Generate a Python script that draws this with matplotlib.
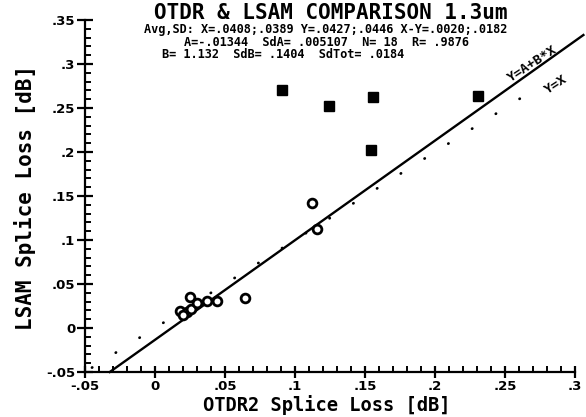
import numpy as np
import matplotlib
matplotlib.use("Agg")
import matplotlib.pyplot as plt
from matplotlib.ticker import MultipleLocator, FixedLocator

# ---- data ----
circ_x = [0.018, 0.023, 0.020, 0.025, 0.026, 0.030, 0.037, 0.044, 0.064, 0.112, 0.116]
circ_y = [0.019, 0.018, 0.015, 0.035, 0.022, 0.028, 0.031, 0.031, 0.034, 0.142, 0.113]
sq_x = [0.091, 0.124, 0.156, 0.154, 0.231]
sq_y = [0.271, 0.252, 0.262, 0.202, 0.264]

fit_A = -0.01344
fit_B = 1.132

x_ticks = [-0.05, 0.0, 0.05, 0.1, 0.15, 0.2, 0.25, 0.3]
x_labels = ["-.05", "0", ".05", ".1", ".15", ".2", ".25", ".3"]
y_ticks = [-0.05, 0.0, 0.05, 0.1, 0.15, 0.2, 0.25, 0.3, 0.35]
y_labels = ["-.05", "0", ".05", ".1", ".15", ".2", ".25", ".3", ".35"]

title = "OTDR & LSAM COMPARISON 1.3um"
stats1 = "Avg,SD: X=.0408;.0389 Y=.0427;.0446 X-Y=.0020;.0182"
stats2 = "A=-.01344  SdA= .005107  N= 18  R= .9876"
stats3 = "B= 1.132  SdB= .1404  SdTot= .0184"
xlabel = "OTDR2 Splice Loss [dB]"
ylabel = "LSAM Splice Loss [dB]"

W, H = 586, 417
fig = plt.figure(figsize=(W / 100, H / 100), dpi=100)
# axes: x from px 85 to 575, y from px 20 (top) to 372 (bottom)
ax = fig.add_axes([85 / W, 1 - 372 / H, 490 / W, 352 / H])

ax.set_xlim(-0.05, 0.3)
ax.set_ylim(-0.05, 0.35)

# regression line Y = A + B*X, starting where it meets the bottom axis
x0 = (-0.05 - fit_A) / fit_B
xr = np.array([x0, 0.306])
ax.plot(xr, fit_A + fit_B * xr, color="black", lw=1.7, clip_on=False, zorder=2)

# Y = X dotted line
xi = np.array([-0.045, 0.272])
ax.plot(xi, xi, color="black", lw=2.0, linestyle=(0, (0.1, 10)),
        dash_capstyle="round", zorder=2)

ax.plot(circ_x, circ_y, linestyle="none", marker="o", markersize=6.3,
        markerfacecolor="white", markeredgecolor="black", markeredgewidth=2.0, zorder=3)
ax.plot(sq_x, sq_y, linestyle="none", marker="s", markersize=6.5,
        markerfacecolor="black", markeredgecolor="black", zorder=3)

for s in ["top", "right"]:
    ax.spines[s].set_visible(False)
for s in ["left", "bottom"]:
    ax.spines[s].set_linewidth(1.6)

ax.xaxis.set_major_locator(FixedLocator(x_ticks))
ax.yaxis.set_major_locator(FixedLocator(y_ticks))
ax.xaxis.set_minor_locator(MultipleLocator(0.01))
ax.yaxis.set_minor_locator(MultipleLocator(0.01))
ax.set_xticklabels(x_labels)
ax.set_yticklabels(y_labels)

tfont = dict(family="DejaVu Sans", weight="bold", size=9.5)
for lab in ax.get_xticklabels() + ax.get_yticklabels():
    lab.set_fontproperties(tfont)
ax.tick_params(axis="y", which="major", direction="inout", length=12, width=1.6, pad=1)
ax.tick_params(axis="x", which="major", direction="inout", length=9, width=1.6, pad=1)
ax.tick_params(axis="both", which="minor", direction="in", length=4, width=1.4)

def ftext(px, py, s, **kw):
    fig.text(px / W, 1 - py / H, s, **kw)

mono = "DejaVu Sans Mono"
ftext(331, 13, title, ha="center", va="center", family=mono, weight="bold", size=15)
ftext(326, 29, stats1, ha="center", va="center", family=mono, weight="bold", size=8.6)
ftext(327, 42, stats2, ha="center", va="center", family=mono, weight="bold", size=8.6)
ftext(283, 55, stats3, ha="center", va="center", family=mono, weight="bold", size=8.6)
ftext(327, 405, xlabel, ha="center", va="center", family=mono, weight="bold", size=13.5)
ftext(25, 197, ylabel, ha="center", va="center", family=mono, weight="bold", size=15, rotation=90)

ftext(533, 64, "Y=A+B*X", ha="center", va="center", family=mono, weight="bold", size=9.5, rotation=33)
ftext(556, 85, "Y=X", ha="center", va="center", family=mono, weight="bold", size=9.5, rotation=33)

fig.savefig("out.png", dpi=100)
